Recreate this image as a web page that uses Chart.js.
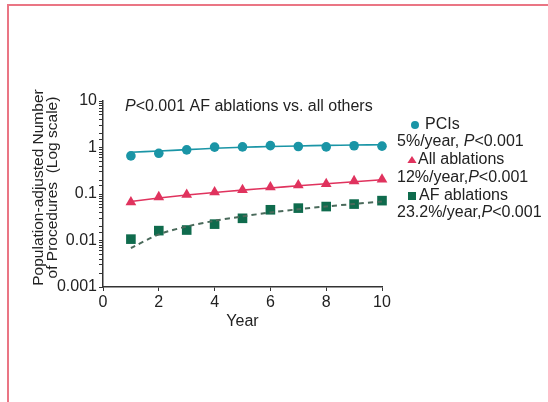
<!DOCTYPE html>
<html>
<head>
<meta charset="utf-8">
<script src="https://cdn.jsdelivr.net/npm/chart.js@4.4.1/dist/chart.umd.min.js"></script>
<style>
  html, body { margin: 0; padding: 0; background: #fff; }
  #wrap { position: relative; width: 548px; height: 402px; }
  #frame {
    position: absolute; left: 7px; top: 4px; right: 0; bottom: 0;
    border-top: 2px solid #ea7584; border-left: 2px solid #ea7584;
  }
  canvas { position: absolute; left: 0; top: 0; }
</style>
</head>
<body>
<div id="wrap">
  <div id="frame"></div>
  <canvas id="procChart" width="548" height="402"></canvas>
</div>
<script>
const years = [1, 2, 3, 4, 5, 6, 7, 8, 9, 10];
const pciValues = [0.66, 0.75, 0.89, 1.02, 1.03, 1.10, 1.05, 1.03, 1.09, 1.07];
const pciFit = [0.79, 0.84, 0.90, 0.96, 1.01, 1.05, 1.08, 1.11, 1.13, 1.15];
const allAblValues = [0.067, 0.086, 0.097, 0.109, 0.122, 0.14, 0.155, 0.165, 0.19, 0.205];
const allAblFit = [0.069, 0.082, 0.095, 0.108, 0.121, 0.135, 0.150, 0.166, 0.184, 0.203];
const afValues = [0.0107, 0.0163, 0.0168, 0.0225, 0.030, 0.0458, 0.0497, 0.0537, 0.0607, 0.072];
const afFit = [0.0069, 0.0135, 0.020, 0.0265, 0.033, 0.040, 0.047, 0.054, 0.061, 0.069];

const yTickValues = [0.001, 0.01, 0.1, 1, 10];
const yTickLabels = ["0.001", "0.01", "0.1", "1", "10"];

const seriesNames = ["PCIs", "All ablations", "AF ablations"];
const seriesStats = [
  [["5%/year, ", false], ["P", true], ["<0.001", false]],
  [["12%/year,", false], ["P", true], ["<0.001", false]],
  [["23.2%/year,", false], ["P", true], ["<0.001", false]],
];
const note = [["P", true], ["<0.001 AF ablations vs. all others", false]];

const teal = "#1a95a6";
const red = "#e0335e";
const green = "#0f6b4d";
const FONT = "'Liberation Sans', Arial, sans-serif";

const pts = (vals) => years.map((x, i) => ({ x: x, y: vals[i] }));

function drawRich(ctx, parts, x, y) {
  for (const [txt, ital] of parts) {
    ctx.font = (ital ? "italic " : "") + "16px " + FONT;
    ctx.fillText(txt, x, y);
    x += ctx.measureText(txt).width;
  }
}

function marker(ctx, kind, x, y, s, color) {
  ctx.fillStyle = color;
  ctx.beginPath();
  if (kind === "circle") {
    ctx.arc(x, y, s, 0, Math.PI * 2);
  } else if (kind === "triangle") {
    ctx.moveTo(x, y - s); ctx.lineTo(x + s * 1.15, y + s * 0.75); ctx.lineTo(x - s * 1.15, y + s * 0.75);
  } else {
    ctx.rect(x - s, y - s, 2 * s, 2 * s);
  }
  ctx.closePath();
  ctx.fill();
}

const textPlugin = {
  id: "texts",
  afterDraw(chart) {
    const ctx = chart.ctx;
    ctx.save();
    ctx.fillStyle = "#222";
    ctx.textBaseline = "middle";
    ctx.textAlign = "left";
    drawRich(ctx, note, 125, 107);

    const kinds = ["circle", "triangle", "rect"];
    const colors = [teal, red, green];
    const nameY = [125, 160, 196];
    const statY = [142, 177.5, 213];
    const markX = [415, 412, 412];
    const nameX = [425, 418, 419];
    for (let i = 0; i < seriesNames.length; i++) {
      marker(ctx, kinds[i], markX[i], nameY[i], 4, colors[i]);
      ctx.fillStyle = "#222";
      drawRich(ctx, [[seriesNames[i], false]], nameX[i], nameY[i]);
      drawRich(ctx, seriesStats[i], 397, statY[i]);
    }
    ctx.restore();
  },
};

new Chart(document.getElementById("procChart").getContext("2d"), {
  type: "scatter",
  data: {
    datasets: [
      { data: pts(pciFit), showLine: true, borderColor: teal, borderWidth: 1.6, pointRadius: 0, tension: 0.3 },
      { data: pts(allAblFit), showLine: true, borderColor: red, borderWidth: 1.6, pointRadius: 0, tension: 0.3 },
      { data: pts(afFit), showLine: true, borderColor: "#4a6a5b", borderWidth: 2, borderDash: [5, 4], pointRadius: 0, tension: 0.3 },
      { data: pts(pciValues), showLine: false, pointStyle: "circle", pointRadius: 4.8, backgroundColor: teal, borderColor: teal, borderWidth: 0, clip: false },
      { data: pts(allAblValues), showLine: false, pointStyle: "triangle", pointRadius: 6.2, backgroundColor: red, borderColor: red, borderWidth: 0, clip: false },
      { data: pts(afValues), showLine: false, pointStyle: "rect", pointRadius: 6.8, backgroundColor: green, borderColor: green, borderWidth: 0, clip: false },
    ],
  },
  options: {
    responsive: false,
    animation: false,
    layout: { padding: { top: 101, right: 166, bottom: 0, left: 0 } },
    plugins: { legend: { display: false }, tooltip: { enabled: false } },
    scales: {
      x: {
        type: "linear",
        min: 0,
        max: 10,
        afterFit: (s) => { s.height = 115; },
        border: { color: "#333", width: 1.5 },
        grid: { drawOnChartArea: false, tickLength: 4, color: "#333" },
        ticks: { stepSize: 2, color: "#222", padding: 2, font: { family: FONT, size: 16 } },
        title: { display: true, text: "Year", color: "#222", font: { family: FONT, size: 16 }, padding: { top: 0, bottom: 71 } },
      },
      y: {
        type: "logarithmic",
        min: 0.001,
        max: 10,
        afterFit: (s) => { s.width = 103; },
        border: { color: "#333", width: 1.5 },
        grid: { drawOnChartArea: false, tickLength: 4, color: "#333" },
        ticks: {
          autoSkip: false,
          color: "#222",
          padding: 2,
          font: { family: FONT, size: 16 },
          callback: (v) => {
            const i = yTickValues.findIndex((t) => Math.abs(t - v) / t < 1e-6);
            return i >= 0 ? yTickLabels[i] : "";
          },
        },
        title: {
          display: true,
          text: ["   Population-adjusted Number", "   of Procedures  (Log scale)"],
          color: "#222",
          font: { family: FONT, size: 15.5, lineHeight: 0.88 },
          padding: { top: 32, bottom: 0 },
        },
      },
    },
  },
  plugins: [textPlugin],
});
</script>
</body>
</html>
